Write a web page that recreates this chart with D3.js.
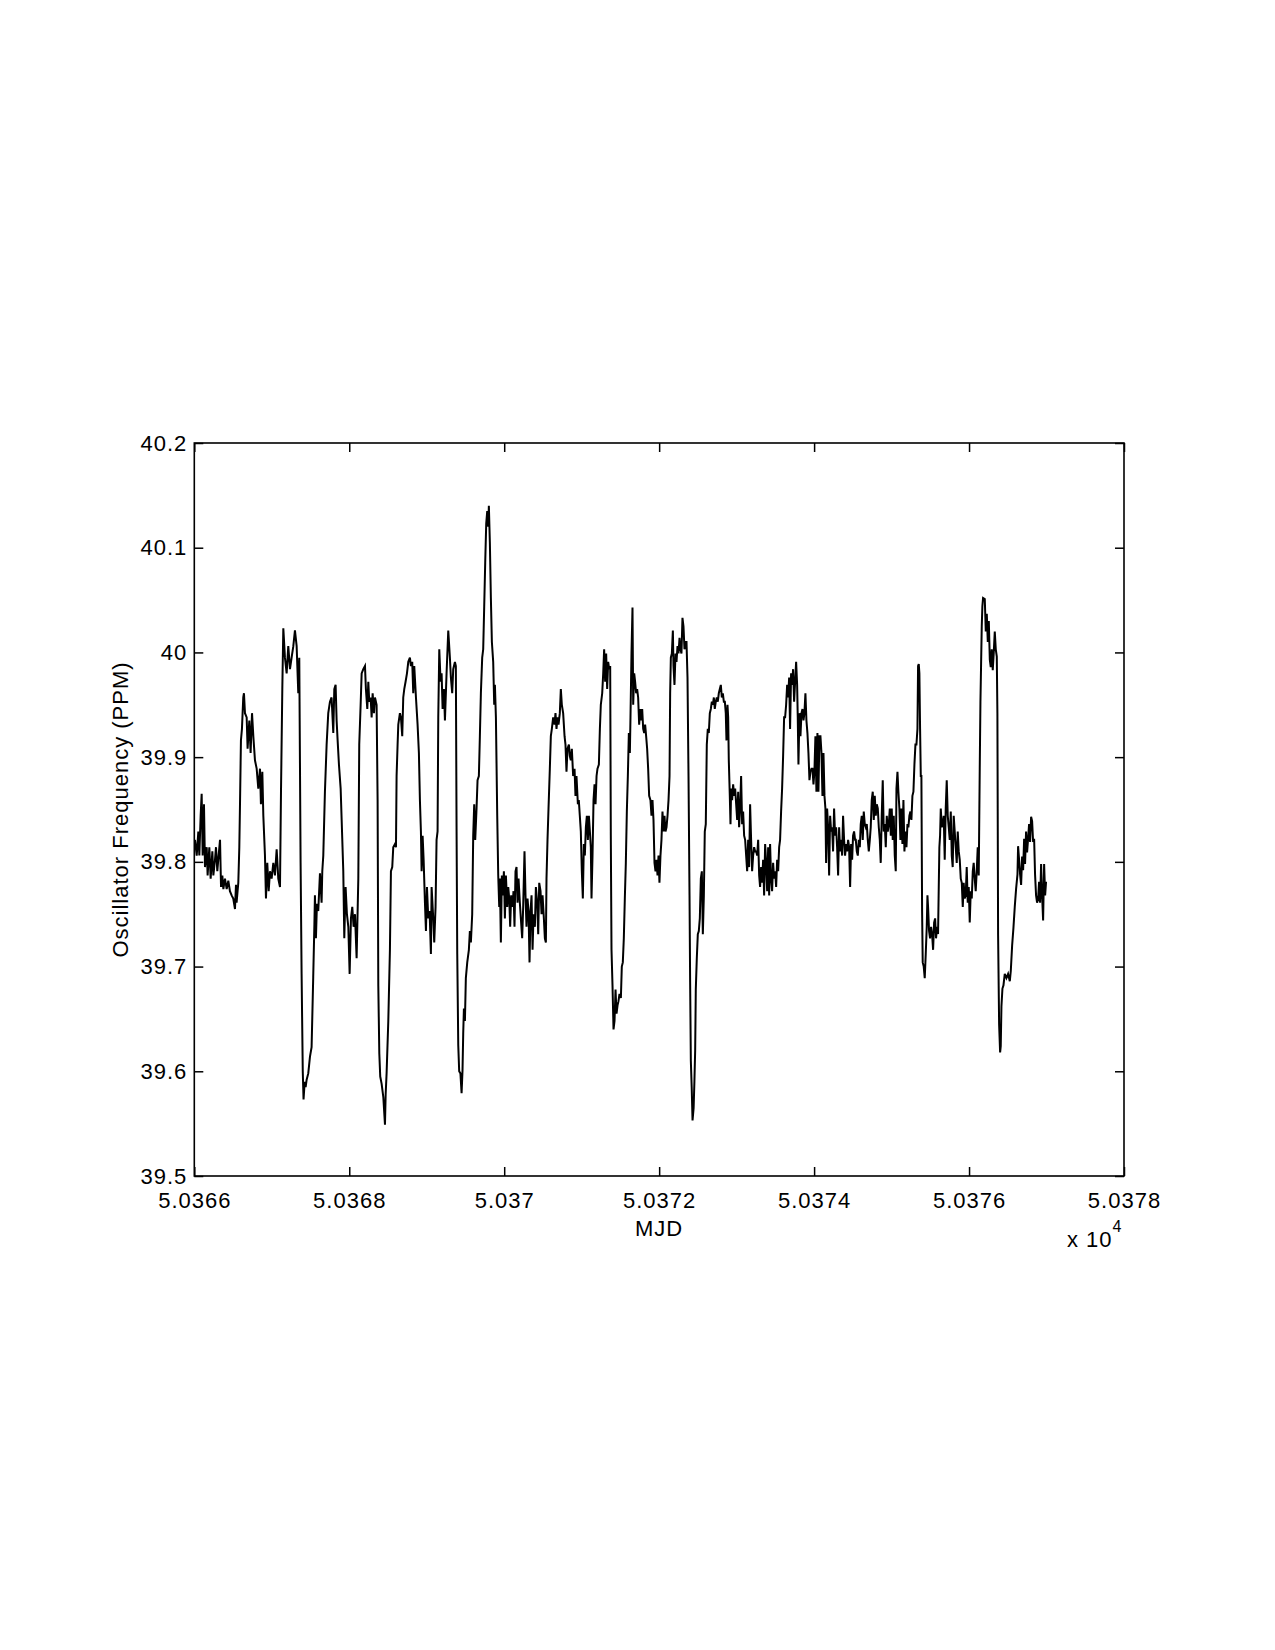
<!DOCTYPE html>
<html><head><meta charset="utf-8">
<script src="https://cdn.jsdelivr.net/npm/d3@7"></script>
<style>html,body{margin:0;padding:0;background:#fff}</style>
</head><body>
<script>
// ---- data (MJD = mjdBase + days) ----
const mjdBase = 50366;
const days = [
0.009,0.031,0.052,0.065,0.082,0.095,0.108,0.125,0.138,0.160,0.172,0.194,0.211,0.233,0.246,0.267,0.280,0.297,0.314,0.332,
0.345,0.362,0.375,0.396,0.418,0.439,0.460,0.482,0.503,0.525,0.538,0.546,0.568,0.581,0.589,0.602,0.615,0.632,0.641,0.654,
0.676,0.688,0.710,0.727,0.745,0.762,0.783,0.805,0.826,0.848,0.860,0.878,0.891,0.912,0.925,0.942,0.960,0.977,0.998,1.020,
1.041,1.063,1.084,1.106,1.119,1.136,1.149,1.170,1.192,1.213,1.235,1.256,1.278,1.299,1.321,1.342,1.355,1.372,1.385,1.400,
1.410,1.425,1.437,1.450,1.471,1.493,1.514,1.535,1.550,
1.557,1.570,1.583,1.600,1.622,1.643,1.652,1.665,1.686,1.708,1.729,1.751,1.772,1.794,1.807,1.824,1.837,1.850,1.867,1.889,
1.902,1.923,1.936,1.953,1.970,1.988,2.005,2.022,2.039,2.056,2.074,2.095,2.117,2.129,2.147,2.160,2.181,2.203,2.215,2.233,
2.246,2.258,2.276,2.289,2.302,2.319,2.332,2.353,2.366,2.375,2.388,2.400,2.418,2.440,2.461,2.470,2.482,2.504,2.525,2.538,
2.555,2.568,2.590,2.603,2.611,2.624,2.633,2.654,2.667,2.684,2.697,2.710,2.727,2.745,2.762,2.783,2.796,2.813,2.826,2.839,
2.861,2.882,2.899,2.912,2.925,2.934,2.947,2.960,2.977,2.990,3.003,3.020,3.037,3.054,3.063,3.084,3.097,3.114,3.127,3.140,
3.149,3.162,3.179,3.192,3.205,3.222,3.235,3.256,3.278,3.299,3.312,3.329,3.342,3.364,
3.376,3.385,3.394,3.407,3.419,3.435,3.450,3.462,3.471,3.480,3.493,3.505,3.523,3.544,3.557,3.570,3.587,3.600,3.613,3.626,
3.643,3.656,3.673,3.686,3.699,3.716,3.729,3.742,3.755,3.768,3.781,3.794,3.802,3.815,3.828,3.841,3.858,3.871,3.880,3.893,
3.910,3.923,3.936,3.944,3.957,3.970,3.983,3.996,4.009,4.022,4.039,4.052,4.065,4.077,4.090,4.108,4.120,4.133,4.146,4.159,
4.172,4.185,4.202,4.215,4.232,4.245,4.262,4.275,4.288,4.301,4.314,4.327,4.340,4.353,4.366,4.379,4.396,4.409,4.426,4.439,
4.452,4.469,4.482,4.495,4.512,4.525,4.538,4.546,4.559,4.572,4.589,4.602,4.615,4.632,4.650,4.662,4.675,4.688,4.701,4.718,
4.731,4.744,4.761,4.779,4.791,4.804,4.817,4.835,4.847,4.860,4.873,4.890,4.908,4.920,4.933,4.951,4.963,4.976,4.989,5.002,
5.015,5.028,5.041,
5.054,5.067,5.080,5.093,5.106,5.118,5.127,5.140,5.153,5.166,5.179,5.192,5.204,5.222,5.235,5.247,5.265,5.278,5.290,5.303,
5.316,5.329,5.342,5.355,5.368,5.376,5.385,5.398,5.411,5.424,5.437,5.450,5.463,5.475,5.488,5.506,5.518,5.531,5.544,5.557,
5.570,5.583,5.596,5.609,5.622,5.630,5.643,5.656,5.665,5.678,5.690,5.703,5.716,5.729,5.742,5.755,5.768,5.781,5.794,5.807,
5.819,5.832,5.845,5.858,5.871,5.888,5.901,5.914,5.927,5.940,5.953,5.966,5.979,5.992,6.004,6.017,6.030,6.043,6.056,6.069,
6.082,6.095,6.108,6.121,6.134,6.142,6.151,6.164,6.177,6.185,6.198,6.211,6.224,6.237,6.250,6.263,6.275,6.288,6.301,6.314,
6.327,6.340,6.353,6.366,6.379,6.392,6.400,6.409,6.420,6.431,6.445,6.455,6.465,6.473,6.486,6.499,6.512,6.525,6.538,6.551,
6.564,6.577,6.589,6.602,6.615,6.628,6.641,6.654,6.667,6.680,6.693,6.706,6.718,6.731,6.744,6.757,6.770,6.783,6.796,6.809,
6.822,6.835,
6.848,6.860,6.869,6.882,6.891,6.899,6.912,6.921,6.929,6.942,6.955,6.968,6.981,6.994,7.007,7.020,7.032,7.045,7.058,7.071,
7.084,7.097,7.110,7.123,7.136,7.149,7.161,7.174,7.187,7.200,7.213,7.226,7.239,7.252,7.265,7.278,7.291,7.303,7.316,7.329,
7.342,7.355,7.368,7.381,7.394,7.407,7.420,7.432,7.445,7.458,7.471,7.484,7.497,7.510,7.523,7.536,7.549,7.561,7.574,7.587,
7.600,7.613,7.626,7.639,7.652,7.665,7.678,7.690,7.703,7.716,7.729,7.742,7.755,7.768,7.781,7.789,7.798,7.811,7.824,7.837,
7.850,7.863,7.875,7.888,7.901,7.914,7.927,7.940,7.953,7.966,7.979,7.992,8.004,8.017,8.030,8.043,8.056,8.069,8.082,8.095,
8.108,8.121,8.134,8.146,8.155,8.168,8.181,8.194,8.207,8.220,8.232,8.245,8.258,8.271,8.284,8.297,8.310,8.323,8.336,8.349,
8.362,8.374,8.387,8.400,8.413,8.426,8.439,8.452,8.465,8.478,8.491,8.503,8.516,8.529,
8.538,8.551,8.564,8.577,8.590,8.602,8.615,8.628,8.641,8.654,8.667,8.680,8.693,8.706,8.719,8.731,8.744,8.757,8.770,8.783,
8.796,8.809,8.822,8.835,8.848,8.860,8.873,8.886,8.899,8.912,8.925,8.938,8.951,8.964,8.977,8.990,9.002,9.015,9.028,9.041,
9.054,9.063,9.076,9.088,9.101,9.114,9.127,9.140,9.153,9.166,9.179,9.192,9.205,9.217,9.230,9.243,9.256,9.269,9.282,9.295,
9.308,9.321,9.334,9.342,9.351,9.359,9.368,9.377,9.385,9.394,9.402,9.415,9.428,9.441,9.454,9.463,9.471,9.484,9.497,9.510,
9.523,9.536,9.549,9.562,9.574,9.587,9.600,9.609,9.617,9.626,9.635,9.648,9.660,9.673,9.686,9.699,9.712,9.725,9.738,9.751,
9.764,9.777,9.789,9.802,9.815,9.828,9.841,9.854,9.867,9.880,9.893,9.906,9.919,9.931,9.944,9.957,9.970,9.983,9.996,10.009,
10.022,10.035,10.048,10.060,10.073,10.086,10.099,10.112,10.125,10.138,10.147,10.155,10.164,10.172,10.181,
10.203,10.216,10.229,10.242,10.255,10.268,10.280,10.293,10.306,10.319,10.332,10.345,10.358,10.366,10.375,10.388,10.401,10.409,10.418,10.431,
10.444,10.461,10.483,10.504,10.526,10.539,10.556,10.573,10.590,10.607,10.625,10.633,10.646,10.659,10.672,10.685,10.698,10.711,10.723,10.736,
10.749,10.762,10.775,10.788,10.801,10.814,10.827,10.840,10.852,10.865,10.878,10.891,10.904,10.917,10.930,10.943,10.956,10.969,10.982,10.994
];
const ppm = [
39.821,39.806,39.829,39.806,39.844,39.865,39.806,39.855,39.795,39.814,39.787,39.814,39.784,39.810,39.787,39.802,39.814,39.791,39.806,39.821,
39.776,39.787,39.774,39.784,39.774,39.782,39.772,39.768,39.765,39.755,39.778,39.761,39.780,39.814,39.851,39.916,39.927,39.957,39.961,39.942,
39.938,39.908,39.935,39.904,39.942,39.920,39.897,39.889,39.870,39.889,39.855,39.886,39.844,39.806,39.765,39.799,39.772,39.791,39.784,39.799,
39.787,39.812,39.784,39.776,39.867,39.965,40.023,39.995,39.980,40.006,39.984,39.995,40.006,40.021,40.006,39.961,39.995,39.799,39.693,39.600,
39.573,39.590,39.585,39.592,39.598,39.614,39.623,39.690,39.740,
39.768,39.727,39.760,39.753,39.789,39.761,39.791,39.806,39.867,39.912,39.942,39.953,39.957,39.923,39.965,39.969,39.935,39.916,39.893,39.870,
39.840,39.791,39.727,39.776,39.750,39.738,39.693,39.746,39.757,39.738,39.750,39.708,39.784,39.912,39.950,39.980,39.984,39.987,39.965,39.946,
39.972,39.953,39.957,39.938,39.961,39.942,39.957,39.950,39.859,39.682,39.617,39.595,39.588,39.575,39.549,39.578,39.598,39.648,39.716,39.791,
39.795,39.814,39.817,39.814,39.882,39.912,39.931,39.942,39.938,39.920,39.957,39.965,39.972,39.980,39.991,39.995,39.987,39.991,39.961,39.987,
39.957,39.931,39.904,39.859,39.829,39.791,39.825,39.802,39.761,39.734,39.776,39.746,39.753,39.712,39.776,39.746,39.723,39.757,39.821,39.829,
39.938,40.003,39.972,39.980,39.946,39.965,39.935,39.980,40.021,39.995,39.976,39.961,39.984,39.991,
39.987,39.833,39.712,39.625,39.600,39.598,39.579,39.601,39.636,39.660,39.648,39.689,39.704,39.716,39.734,39.723,39.750,39.825,39.855,39.821,
39.851,39.878,39.882,39.920,39.961,39.995,40.003,40.044,40.086,40.123,40.135,40.120,40.140,40.105,40.052,40.010,39.991,39.950,39.969,39.938,
39.844,39.787,39.757,39.784,39.723,39.787,39.768,39.791,39.746,39.787,39.757,39.776,39.765,39.738,39.768,39.757,39.772,39.738,39.791,39.795,
39.761,39.784,39.761,39.746,39.727,39.757,39.810,39.768,39.738,39.765,39.753,39.704,39.753,39.768,39.716,39.750,39.738,39.776,39.761,39.731,
39.780,39.772,39.750,39.768,39.746,39.727,39.723,39.784,39.821,39.851,39.889,39.920,39.927,39.938,39.931,39.942,39.927,39.938,39.931,39.942,
39.965,39.950,39.942,39.920,39.912,39.886,39.908,39.912,39.901,39.897,39.908,39.882,39.889,39.863,39.882,39.855,39.859,39.844,39.829,39.791,
39.765,39.817,39.806,
39.833,39.844,39.821,39.844,39.829,39.814,39.765,39.806,39.859,39.874,39.855,39.882,39.889,39.893,39.927,39.950,39.961,39.980,40.003,39.972,
39.999,39.965,39.991,39.984,39.987,39.825,39.716,39.682,39.640,39.648,39.678,39.655,39.663,39.667,39.674,39.670,39.700,39.704,39.727,39.765,
39.799,39.848,39.882,39.923,39.904,39.938,39.999,40.043,39.950,39.980,39.972,39.961,39.965,39.957,39.931,39.946,39.935,39.946,39.927,39.923,
39.931,39.920,39.908,39.889,39.863,39.859,39.844,39.859,39.840,39.799,39.791,39.802,39.787,39.806,39.780,39.806,39.821,39.848,39.829,39.844,
39.829,39.833,39.844,39.859,39.882,39.961,39.995,39.999,40.021,39.987,39.969,39.999,39.991,40.006,39.999,40.014,40.003,39.999,40.033,40.025,
40.003,40.010,40.010,39.976,39.882,39.768,39.685,39.610,39.585,39.553,39.565,39.590,39.620,39.678,39.708,39.731,39.734,39.746,39.784,39.791,
39.731,39.768,39.829,39.836,39.912,39.927,39.923,39.942,39.946,39.953,39.950,39.957,39.946,39.953,39.957,39.953,39.961,39.965,39.969,39.957,
39.961,39.953,
39.953,39.942,39.916,39.950,39.938,39.897,39.863,39.836,39.870,39.859,39.874,39.863,39.870,39.855,39.840,39.867,39.833,39.851,39.882,39.836,
39.848,39.825,39.821,39.806,39.791,39.821,39.795,39.855,39.821,39.791,39.806,39.814,39.810,39.810,39.806,39.821,39.787,39.776,39.795,39.780,
39.802,39.768,39.817,39.799,39.772,39.814,39.768,39.817,39.784,39.772,39.799,39.784,39.791,39.776,39.802,39.791,39.814,39.821,39.848,39.870,
39.901,39.938,39.938,39.950,39.969,39.957,39.976,39.927,39.980,39.969,39.984,39.953,39.972,39.991,39.969,39.938,39.893,39.942,39.920,39.942,
39.946,39.935,39.942,39.961,39.935,39.923,39.904,39.878,39.886,39.889,39.889,39.874,39.886,39.920,39.867,39.923,39.867,39.920,39.920,39.904,
39.863,39.904,39.863,39.851,39.799,39.851,39.833,39.787,39.844,39.829,39.833,39.810,39.851,39.825,39.833,39.814,39.787,39.833,39.810,39.821,
39.806,39.844,39.821,39.806,39.817,39.810,39.821,39.814,39.776,39.817,39.802,39.825,39.829,39.821,
39.821,39.810,39.806,39.821,39.814,39.836,39.844,39.821,39.848,39.836,39.833,39.836,39.821,39.810,39.821,39.833,39.859,39.867,39.840,39.863,
39.844,39.855,39.851,39.833,39.821,39.799,39.844,39.878,39.829,39.836,39.814,39.844,39.829,39.836,39.851,39.825,39.851,39.821,39.844,39.806,
39.791,39.870,39.886,39.867,39.851,39.821,39.851,39.817,39.859,39.810,39.829,39.814,39.836,39.833,39.844,39.848,39.840,39.863,39.867,39.893,
39.912,39.912,39.927,39.987,39.989,39.980,39.927,39.882,39.882,39.753,39.704,39.700,39.689,39.712,39.738,39.768,39.757,39.734,39.727,39.738,
39.731,39.716,39.742,39.746,39.727,39.738,39.731,39.776,39.814,39.825,39.851,39.833,39.836,39.844,39.802,39.851,39.878,39.844,39.833,39.821,
39.848,39.806,39.795,39.844,39.829,39.814,39.799,39.829,39.810,39.802,39.784,39.780,39.757,39.780,39.765,39.768,39.795,39.761,39.776,39.742,
39.772,39.765,39.791,39.799,39.784,39.772,39.791,39.814,39.787,39.889,39.953,39.987,40.025,40.044,40.052,
40.051,40.020,40.037,40.010,40.030,39.993,39.986,40.003,39.983,40.000,40.020,40.003,39.996,39.942,39.730,39.645,39.618,39.624,39.662,39.679,
39.682,39.693,39.689,39.693,39.686,39.696,39.720,39.737,39.757,39.774,39.788,39.815,39.802,39.788,39.778,39.805,39.792,39.822,39.798,39.829,
39.809,39.822,39.836,39.819,39.843,39.839,39.819,39.822,39.788,39.768,39.761,39.764,39.781,39.761,39.798,39.768,39.744,39.798,39.768,39.781
];

const xTicks = [50366, 50368, 50370, 50372, 50374, 50376, 50378];
const xTickLabels = ["5.0366", "5.0368", "5.037", "5.0372", "5.0374", "5.0376", "5.0378"];
const yTicks = [39.5, 39.6, 39.7, 39.8, 39.9, 40.0, 40.1, 40.2];
const yTickLabels = ["39.5", "39.6", "39.7", "39.8", "39.9", "40", "40.1", "40.2"];
const xLabel = "MJD";
const yLabel = "Oscillator Frequency (PPM)";
const xExponent = "4";

// ---- layout ----
const W = 1275, H = 1650;
const L = 194.3, R = 1124, T = 443, B = 1176;
const FONT = "'Liberation Sans', Arial, Helvetica, sans-serif";
const FS = 22, LS = "1px";

const svg = d3.select("body").append("svg").attr("width", W).attr("height", H)
  .style("background", "#fff");

const x = d3.scaleLinear().domain([50366, 50378]).range([L, R]);
const y = d3.scaleLinear().domain([39.5, 40.2]).range([B, T]);

const pts = days.map((d, i) => [mjdBase + d, ppm[i]]);

// data line
svg.append("path").datum(pts)
  .attr("fill", "none").attr("stroke", "#000").attr("stroke-width", 2)
  .attr("stroke-linejoin", "miter")
  .attr("d", d3.line().x(d => x(d[0])).y(d => y(d[1])));

function styleAxis(g) {
  g.select(".domain").remove();
  g.selectAll(".tick line").attr("stroke", "#000").attr("stroke-width", 1.5);
  g.selectAll(".tick text").attr("fill", "#000")
    .style("font-family", FONT).style("font-size", FS + "px").style("letter-spacing", LS);
}

// bottom axis
svg.append("g").attr("transform", `translate(0,${B})`)
  .call(d3.axisBottom(x).tickValues(xTicks).tickFormat((d, i) => xTickLabels[i])
    .tickSizeInner(-9).tickSizeOuter(0).tickPadding(16))
  .call(styleAxis);
// top axis (ticks only)
svg.append("g").attr("transform", `translate(0,${T})`)
  .call(d3.axisTop(x).tickValues(xTicks).tickFormat("").tickSizeInner(-9).tickSizeOuter(0))
  .call(styleAxis);
// left axis
svg.append("g").attr("transform", `translate(${L},0)`)
  .call(d3.axisLeft(y).tickValues(yTicks).tickFormat((d, i) => yTickLabels[i])
    .tickSizeInner(-9).tickSizeOuter(0).tickPadding(7))
  .call(styleAxis);
// right axis (ticks only)
svg.append("g").attr("transform", `translate(${R},0)`)
  .call(d3.axisRight(y).tickValues(yTicks).tickFormat("").tickSizeInner(-9).tickSizeOuter(0))
  .call(styleAxis);

// frame
svg.append("rect").attr("x", L).attr("y", T).attr("width", R - L).attr("height", B - T)
  .attr("fill", "none").attr("stroke", "#000").attr("stroke-width", 1.6);

// axis labels
svg.append("text").attr("x", (L + R) / 2).attr("y", 1236)
  .attr("text-anchor", "middle").style("font-family", FONT).style("font-size", FS + "px")
  .style("letter-spacing", LS).text(xLabel);

svg.append("text").attr("transform", `translate(128,${(T + B) / 2}) rotate(-90)`)
  .attr("text-anchor", "middle").style("font-family", FONT).style("font-size", FS + "px")
  .style("letter-spacing", LS).text(yLabel);

// exponent label
const ex = svg.append("text").attr("x", 1067).attr("y", 1247)
  .style("font-family", FONT).style("font-size", FS + "px").style("letter-spacing", LS);
ex.append("tspan").text("x 10");
ex.append("tspan").attr("dy", -15).style("font-size", "16px").text(xExponent);
</script>
</body></html>
